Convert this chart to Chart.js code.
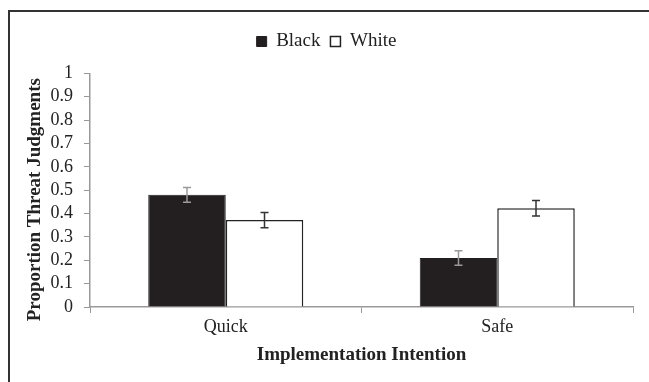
<!DOCTYPE html>
<html>
<head>
<meta charset="utf-8">
<script src="https://cdn.jsdelivr.net/npm/chart.js@4.4.1/dist/chart.umd.min.js"></script>
<style>
  html, body { margin: 0; padding: 0; background: #fff; }
  #wrap { position: relative; width: 649px; height: 382px; }
  #frame {
    position: absolute; left: 8px; top: 10px; width: 660px; height: 400px;
    border-top: 2px solid #333; border-left: 2px solid #333;
  }
  canvas { position: absolute; left: 0; top: 0; }
</style>
</head>
<body>
<div id="wrap">
  <div id="frame"></div>
  <canvas id="grafico" width="649" height="382"></canvas>
</div>
<script>
const categorias = ['Quick', 'Safe'];
const valoresBlack = [0.48, 0.21];
const valoresWhite = [0.372, 0.423];
const errosBlack = [0.032, 0.031];
const errosWhite = [0.033, 0.033];
const ticksY = [0, 0.1, 0.2, 0.3, 0.4, 0.5, 0.6, 0.7, 0.8, 0.9, 1];

const fonteSerif = "'Liberation Serif', 'Times New Roman', serif";

// barras de erro desenhadas a partir da escala y
const barrasErro = {
  id: 'barrasErro',
  afterDatasetsDraw(chart) {
    const ctx = chart.ctx;
    const y = chart.scales.y;
    chart.data.datasets.forEach((ds, i) => {
      const meta = chart.getDatasetMeta(i);
      meta.data.forEach((bar, j) => {
        const v = ds.data[j];
        const e = ds.erros[j];
        const topo = y.getPixelForValue(v + e);
        const base = y.getPixelForValue(v - e);
        ctx.save();
        ctx.strokeStyle = ds.corErro;
        ctx.lineWidth = 1.5;
        ctx.beginPath();
        ctx.moveTo(bar.x, topo); ctx.lineTo(bar.x, base);
        ctx.moveTo(bar.x - 4, topo); ctx.lineTo(bar.x + 4, topo);
        ctx.moveTo(bar.x - 4, base); ctx.lineTo(bar.x + 4, base);
        ctx.stroke();
        ctx.restore();
      });
    });
  }
};

new Chart(document.getElementById('grafico').getContext('2d'), {
  type: 'bar',
  data: {
    labels: categorias,
    datasets: [
      {
        label: 'Black',
        data: valoresBlack,
        erros: errosBlack,
        corErro: '#9a9a9a',
        backgroundColor: '#231f20',
        borderColor: '#231f20',
        borderWidth: 1
      },
      {
        label: 'White',
        data: valoresWhite,
        erros: errosWhite,
        corErro: '#333333',
        backgroundColor: '#ffffff',
        borderColor: '#222222',
        borderWidth: 1.5
      }
    ]
  },
  options: {
    responsive: false,
    animation: false,
    categoryPercentage: 0.571,
    barPercentage: 1,
    layout: { padding: { left: 20, right: 16, top: 22, bottom: 12 } },
    plugins: {
      legend: {
        position: 'top',
        weight: 1000,
        labels: {
          boxWidth: 10,
          boxHeight: 10,
          padding: 10,
          color: '#222',
          font: { family: fonteSerif, size: 19 }
        }
      },
      // espaço vazio entre a legenda e o gráfico
      subtitle: {
        display: true,
        position: 'top',
        weight: 500,
        text: '',
        font: { size: 2 },
        padding: { top: 0, bottom: 10 }
      },
      tooltip: { enabled: false }
    },
    scales: {
      x: {
        offset: true,
        grid: {
          offset: true,
          drawOnChartArea: false,
          color: '#999',
          tickLength: 6
        },
        border: { color: '#999', width: 1.5 },
        ticks: { color: '#222', font: { family: fonteSerif, size: 18 }, padding: 3 },
        title: {
          display: true,
          text: 'Implementation Intention',
          color: '#222',
          font: { family: fonteSerif, size: 19, weight: 'bold' },
          padding: { top: 4 }
        },
        afterFit: s => { s.height = 63; }
      },
      y: {
        min: 0,
        max: 1,
        afterBuildTicks: s => { s.ticks = ticksY.map(v => ({ value: v })); },
        grid: { drawOnChartArea: false, color: '#999', tickLength: 6 },
        border: { color: '#999', width: 1.5 },
        ticks: {
          color: '#222',
          autoSkip: false,
          font: { family: fonteSerif, size: 18 },
          padding: 11,
          callback: v => String(v)
        },
        title: {
          display: true,
          text: 'Proportion Threat Judgments    ',
          color: '#222',
          font: { family: fonteSerif, size: 19, weight: 'bold' },
          padding: { bottom: 4 }
        },
        afterFit: s => { s.width = 70; }
      }
    }
  },
  plugins: [barrasErro]
});
</script>
</body>
</html>
